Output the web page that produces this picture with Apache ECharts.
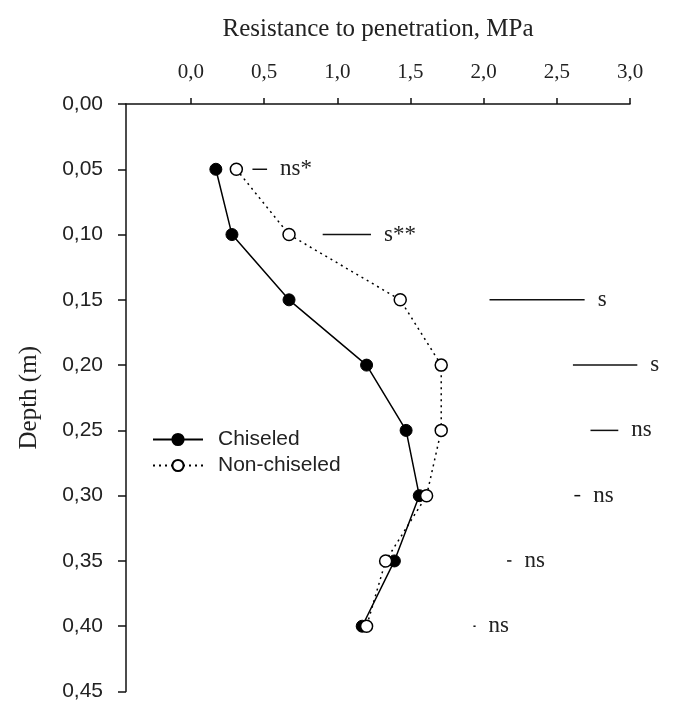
<!DOCTYPE html>
<html>
<head>
<meta charset="utf-8">
<script src="https://cdn.jsdelivr.net/npm/echarts@6/dist/echarts.min.js"></script>
<style>html,body{margin:0;padding:0;background:#fff}#c{width:687px;height:702px}</style>
</head>
<body>
<div id="c"></div>
<script>
// Data
var depths = [0.05, 0.10, 0.15, 0.20, 0.25, 0.30, 0.35, 0.40];
var chiseled = [0.17, 0.28, 0.67, 1.20, 1.47, 1.56, 1.39, 1.17];
var nonChiseled = [0.31, 0.67, 1.43, 1.71, 1.71, 1.61, 1.33, 1.20];
var barStart = [0.42, 0.90, 2.04, 2.61, 2.73, 2.62, 2.16, 1.93];
var barEnd = [0.52, 1.23, 2.69, 3.05, 2.92, 2.66, 2.19, 1.945];
var sigLabels = ['ns*', 's**', 's', 's', 'ns', 'ns', 'ns', 'ns'];
var xTicks = [0, 0.5, 1.0, 1.5, 2.0, 2.5, 3.0];
var seriesNames = ['Chiseled', 'Non-chiseled'];

var serif = '"Liberation Serif","Times New Roman",serif';
var sans = '"Liberation Sans",Arial,sans-serif';

var chart = echarts.init(document.getElementById('c'));
var sigData = depths.map(function (d, i) { return [barStart[i], barEnd[i], d, sigLabels[i]]; });

chart.setOption({
  animation: false,
  backgroundColor: '#fff',
  grid: { left: 126, top: 104, right: 57, bottom: 8 },
  legend: {
    orient: 'vertical',
    left: 147,
    top: 424,
    itemWidth: 50,
    itemHeight: 14,
    itemGap: 5,
    data: seriesNames,
    textStyle: { fontFamily: sans, fontSize: 21, color: '#222', padding: [0, 0, 0, 10] }
  },
  xAxis: {
    type: 'value',
    position: 'top',
    min: -0.444,
    max: 3,
    name: 'Resistance to penetration, MPa',
    nameLocation: 'middle',
    nameGap: 62,
    nameTextStyle: { fontFamily: serif, fontSize: 25, color: '#222' },
    axisLine: { show: true, onZero: false, lineStyle: { color: '#111', width: 1.5 } },
    axisTick: { show: true, inside: false, length: 6, customValues: xTicks, lineStyle: { color: '#111', width: 1.5 } },
    axisLabel: {
      customValues: xTicks,
      margin: 21,
      fontFamily: serif, fontSize: 21, color: '#222',
      formatter: function (v) { return v.toFixed(1).replace('.', ','); }
    },
    splitLine: { show: false }
  },
  yAxis: {
    type: 'value',
    inverse: true,
    min: 0,
    max: 0.45,
    interval: 0.05,
    name: 'Depth (m)',
    nameLocation: 'middle',
    nameRotate: 90,
    nameGap: 84,
    nameTextStyle: { fontFamily: serif, fontSize: 25, color: '#222' },
    axisLine: { show: true, onZero: false, lineStyle: { color: '#111', width: 1.5 } },
    axisTick: { show: true, inside: false, length: 8, lineStyle: { color: '#111', width: 1.5 } },
    axisLabel: {
      margin: 23,
      fontFamily: sans, fontSize: 21, color: '#222',
      formatter: function (v) { return v.toFixed(2).replace('.', ','); }
    },
    splitLine: { show: false }
  },
  series: [
    {
      name: seriesNames[0],
      type: 'line',
      data: depths.map(function (d, i) { return [chiseled[i], d]; }),
      symbol: 'circle',
      symbolSize: 12,
      lineStyle: { color: '#000', width: 1.5 },
      itemStyle: { color: '#000', borderColor: '#000', borderWidth: 1 },
      z: 3
    },
    {
      name: seriesNames[1],
      type: 'line',
      data: depths.map(function (d, i) { return [nonChiseled[i], d]; }),
      symbol: 'circle',
      symbolSize: 12,
      lineStyle: { color: '#000', width: 1.5, type: [2, 4] },
      itemStyle: { color: '#fff', borderColor: '#000', borderWidth: 1.5 },
      z: 4
    },
    {
      type: 'custom',
      data: sigData,
      encode: { x: [0, 1], y: 2 },
      renderItem: function (params, api) {
        var p1 = api.coord([api.value(0), api.value(2)]);
        var p2 = api.coord([api.value(1), api.value(2)]);
        var label = sigLabels[params.dataIndex];
        return {
          type: 'group',
          children: [
            { type: 'line', shape: { x1: p1[0], y1: p1[1], x2: Math.max(p2[0], p1[0] + 1.5), y2: p2[1] },
              style: { stroke: '#111', lineWidth: 1.5 } },
            { type: 'text', x: p2[0] + 13, y: p2[1],
              style: { text: label, fill: '#222', font: '23px ' + serif, verticalAlign: 'middle', align: 'left' } }
          ]
        };
      },
      z: 2
    }
  ]
});
</script>
</body>
</html>
